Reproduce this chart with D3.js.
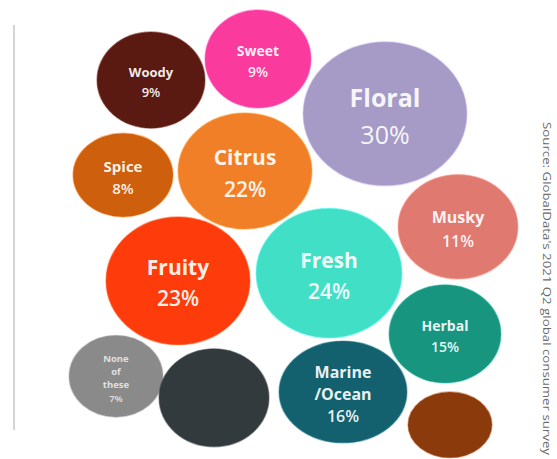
<!DOCTYPE html>
<html>
<head>
<meta charset="utf-8">
<script src="https://cdn.jsdelivr.net/npm/d3@7"></script>
<style>
  html, body { margin: 0; padding: 0; background: #ffffff; }
  svg { display: block; }
</style>
</head>
<body>
<svg id="chart" width="557" height="459"></svg>
<script>
// ---- data ----
const categories = ["Woody", "Sweet", "Floral", "Spice", "Citrus", "Musky", "Fruity", "Fresh", "Herbal", "None of these", "", "Marine /Ocean", ""];
const labelLines = [["Woody"], ["Sweet"], ["Floral"], ["Spice"], ["Citrus"], ["Musky"], ["Fruity"], ["Fresh"], ["Herbal"], ["None", "of", "these"], [], ["Marine", "/Ocean"], []];
const values = [9, 9, 30, 8, 22, 11, 23, 24, 15, 7, null, 16, null];
// bubble layout in chart units (0-100 each way)
const posX = [26.2, 47.6, 73.0, 20.6, 45.0, 87.6, 31.6, 61.8, 85.0, 19.2, 38.8, 64.6, 86.0];
const posY = [17.8, 13.1, 25.3, 38.9, 38.0, 50.4, 62.4, 60.7, 74.2, 83.6, 88.4, 87.1, 94.4];
const sizeX = [10.8, 10.6, 16.4, 10.0, 13.4, 12.0, 14.4, 14.6, 11.2, 9.4, 11.0, 12.8, 8.4];
const sizeY = [10.7, 10.9, 16.0, 9.3, 12.9, 11.6, 14.2, 14.4, 10.9, 9.1, 10.9, 11.3, 7.3];
const sourceText = "Source: GlobalData's 2021 Q2 global consumer survey";

// ---- styles ----
const colors = ["#5b1a11", "#fa3a9c", "#a69bc6", "#cd5f0d", "#f17f27", "#e07a70", "#fe3c0b", "#42dfc7", "#17957f", "#8a8a8a", "#333a3e", "#13616f", "#8b3a0b"];
const fontSizes = [13, 14, 25, 15, 21, 16, 21, 21, 14, 9.5, 0, 16, 0];

const svg = d3.select("#chart");
const x = d3.scaleLinear().domain([0, 100]).range([20, 520]);
const y = d3.scaleLinear().domain([0, 100]).range([0, 450]);
const sx = d3.scaleLinear().domain([0, 100]).range([0, 500]);
const sy = d3.scaleLinear().domain([0, 100]).range([0, 450]);

const data = categories.map((c, i) => ({
  name: c, lines: labelLines[i], value: values[i],
  px: posX[i], py: posY[i], rx: sizeX[i], ry: sizeY[i],
  color: colors[i], fs: fontSizes[i]
}));

// left rule
svg.append("line")
  .attr("x1", 14).attr("x2", 14)
  .attr("y1", 25).attr("y2", 430)
  .attr("stroke", "#d4d4d4").attr("stroke-width", 2);

const g = svg.append("g").selectAll("g.bubble").data(data).join("g").attr("class", "bubble");

g.append("ellipse")
  .attr("cx", d => x(d.px))
  .attr("cy", d => y(d.py))
  .attr("rx", d => sx(d.rx))
  .attr("ry", d => sy(d.ry))
  .attr("fill", d => d.color)
  .attr("stroke", d => d3.color(d.color).brighter(0.6))
  .attr("stroke-opacity", 0.5)
  .attr("stroke-width", 1.2);

g.each(function(d) {
  if (d.value == null) return;
  const lines = d.lines.concat([d.value + "%"]);
  const lh = d.fs * (lines.length > 2 ? 1.4 : 1.48);
  const cx = x(d.px), cy = y(d.py) + 2;
  const top = cy - (lines.length - 1) * lh / 2;
  const t = d3.select(this).append("text")
    .attr("text-anchor", "middle")
    .attr("font-family", "'Open Sans', sans-serif")
    .attr("fill", "#fff")
    .attr("fill-opacity", d.name === "None of these" ? 0.75 : 0.93);
  lines.forEach((ln, k) => {
    const isPct = k === lines.length - 1;
    t.append("tspan")
      .attr("x", cx)
      .attr("y", top + k * lh)
      .attr("dominant-baseline", "central")
      .attr("font-size", d.fs)
      .attr("font-weight", isPct ? (d.name === "Floral" ? 400 : 600) : 700)
      .text(ln);
  });
});

// rotated source note
svg.append("text")
  .attr("transform", "translate(547,122) rotate(90)")
  .attr("font-family", "'Open Sans', sans-serif")
  .attr("font-size", 11.5)
  .attr("fill", "#6a6a6a")
  .attr("dominant-baseline", "central")
  .attr("textLength", 333)
  .attr("lengthAdjust", "spacingAndGlyphs")
  .text(sourceText);
</script>
</body>
</html>
